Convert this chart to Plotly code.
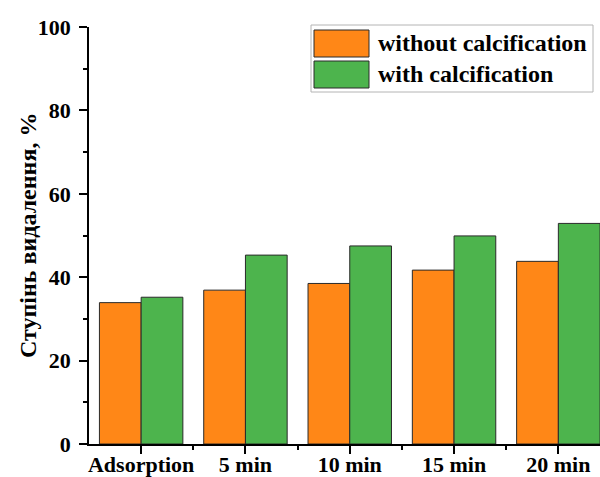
import plotly.graph_objects as go

# Removal degree (%) per treatment stage
categories = ["Adsorption", "5 min", "10 min", "15 min", "20 min"]
without_calc = [33.9, 36.9, 38.5, 41.7, 43.8]
with_calc = [35.2, 45.3, 47.5, 49.9, 52.9]
series_names = ["without calcification", "with calcification"]
colors = ["#FF8717", "#4DB44D"]
y_ticks = [0, 20, 40, 60, 80, 100]
y_title = "Ступінь видалення, %"

FONT = "'Liberation Serif', 'Times New Roman', Times, serif"
W, H = 600, 477
L, R, T, B = 89, 0, 27, 33
pw, ph = W - L - R, H - T - B

def px_x(p):
    return (p - L) / pw

def px_y(p):
    return (H - B - p) / ph

def bold(s):
    return "<b>" + s + "</b>"

xs = list(range(len(categories)))

fig = go.Figure()
for name, vals, col in zip(series_names, [without_calc, with_calc], colors):
    fig.add_trace(go.Bar(
        x=xs, y=vals, name=name,
        marker=dict(color=col, line=dict(color="#2a2a2a", width=1)),
        showlegend=False,
    ))

axis_font = dict(family=FONT, size=22, color="black")

fig.update_layout(
    template="none",
    width=W, height=H,
    margin=dict(l=L, r=R, t=T, b=B, pad=0, autoexpand=False),
    paper_bgcolor="white", plot_bgcolor="white",
    barmode="group", bargap=0.2, bargroupgap=0,
    font=dict(family=FONT, color="black"),
    xaxis=dict(
        automargin=False,
        range=[-0.5, -0.5 + pw / 104.3],
        tickvals=xs, ticktext=[bold(c) for c in categories],
        ticks="outside", ticklen=8, tickwidth=1.5, tickcolor="black",
        minor=dict(tickvals=[i + 0.5 for i in xs[:-1]], ticks="outside",
                   ticklen=4, tickwidth=1.5, tickcolor="black"),
        showline=True, linecolor="black", linewidth=1.5,
        showgrid=False, zeroline=False, tickfont=axis_font,
        ticklabelstandoff=-8,
    ),
    yaxis=dict(
        automargin=False,
        range=[0, 100],
        tickvals=y_ticks, ticktext=[bold(str(v)) for v in y_ticks],
        ticks="outside", ticklen=8, tickwidth=1.5, tickcolor="black",
        minor=dict(dtick=10, ticks="outside", ticklen=4, tickwidth=1.5,
                   tickcolor="black"),
        showline=True, linecolor="black", linewidth=1.5,
        showgrid=False, zeroline=False, tickfont=axis_font,
        ticklabelstandoff=4,
    ),
)

# Y axis title, rotated
annotations = [dict(xref="paper", yref="paper", x=px_x(28), y=px_y(236),
                    xanchor="center", yanchor="middle", textangle=-90, showarrow=False,
                    text=bold(y_title), font=dict(family=FONT, size=24, color="black"))]

# Legend drawn with large swatches
shapes = [dict(type="rect", xref="paper", yref="paper",
               x0=px_x(311), x1=px_x(593), y0=px_y(92), y1=px_y(25),
               line=dict(color="#b4b4b4", width=1), fillcolor="white", layer="above")]
rows = [(30, 57), (61, 88)]
for (top, bot), name, col in zip(rows, series_names, colors):
    shapes.append(dict(type="rect", xref="paper", yref="paper",
                       x0=px_x(314), x1=px_x(369), y0=px_y(bot), y1=px_y(top),
                       line=dict(color="#2a2a2a", width=1), fillcolor=col, layer="above"))
    annotations.append(dict(xref="paper", yref="paper", x=px_x(376), y=px_y((top + bot) / 2),
                            xanchor="left", yanchor="middle", showarrow=False, text=bold(name),
                            font=dict(family=FONT, size=24, color="black")))
fig.update_layout(shapes=shapes, annotations=annotations)

fig.write_html("out.html")
